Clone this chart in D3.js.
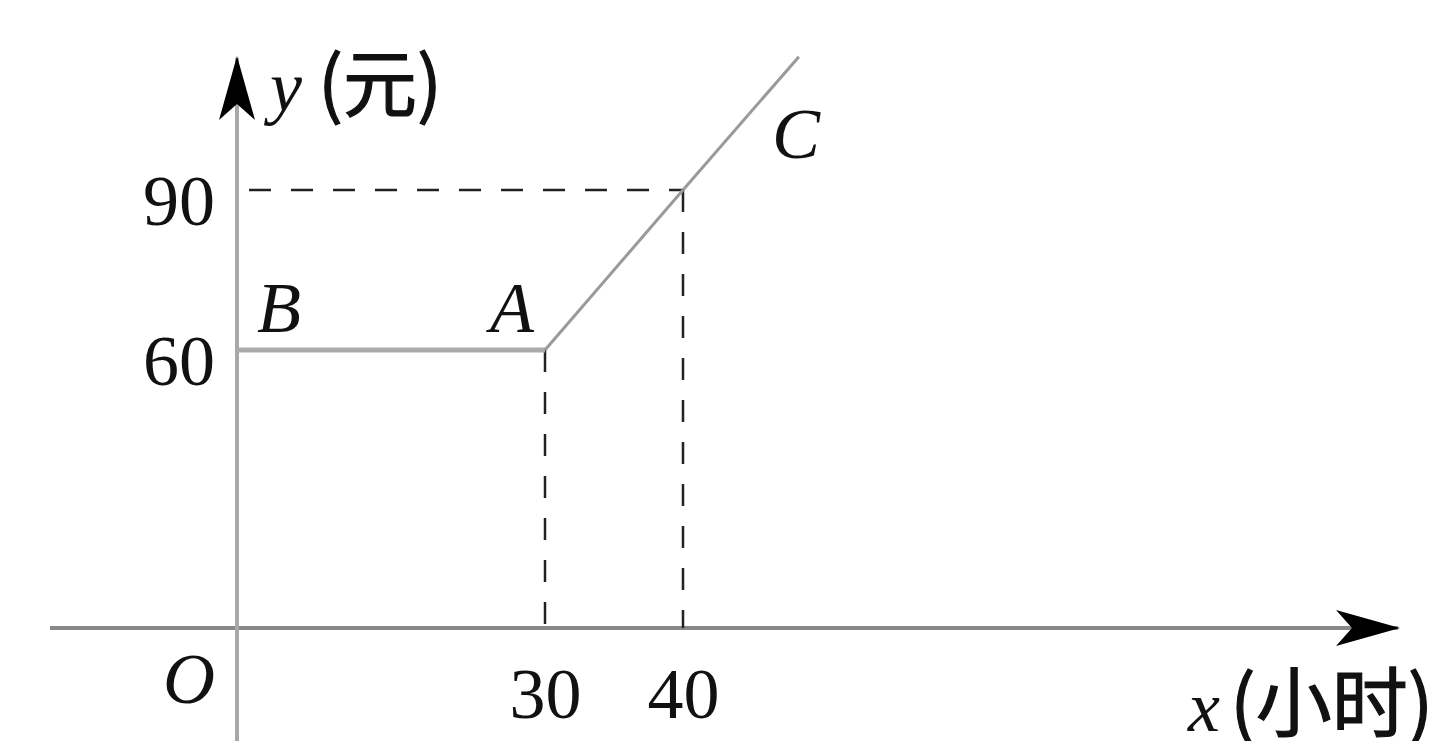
<!DOCTYPE html>
<html>
<head>
<meta charset="utf-8">
<script src="https://cdn.jsdelivr.net/npm/d3@7/dist/d3.min.js"></script>
<style>
  html, body { margin: 0; padding: 0; background: #fff; overflow: hidden; }
  svg { display: block; }
</style>
</head>
<body>
<div id="render-zone"></div>
<script>
/* chart data */
var xTicks = [30, 40],                 // hours marked on x
    yTicks = [60, 90],                 // fees marked on y
    pathX  = [0, 30, 40, 48.4],        // B, A, (40,90), end of C ray
    pathY  = [60, 60, 90, 115],
    guideX = [30, 40],                 // dashed drop lines
    guideY = [60, 90],
    pointNames = [ { name : "B", x : 0,  y : 60 },
                   { name : "A", x : 30, y : 60 },
                   { name : "C", x : 48.4, y : 115 } ];

(function( w ) {

"use strict";

var W = 1443, H = 741,
    SERIF = "'Liberation Serif','Times New Roman',serif",
    CJK   = "'Noto Sans CJK SC',sans-serif",

    /* the textbook figure is not to scale, so both scales are piecewise */
    x = d3.scaleLinear().domain([0, 30, 40]).range([237, 545, 683]),
    y = d3.scaleLinear().domain([0, 60, 90]).range([628, 350, 190]),

    svg = d3.select("#render-zone").append("svg")
        .attr("width", W).attr("height", H),
    defs = svg.append("defs");

/* stealth arrow heads */
defs.append("marker")
    .attr("id", "arrow")
    .attr("viewBox", "0 0 64 36")
    .attr("refX", 62).attr("refY", 18)
    .attr("markerWidth", 64).attr("markerHeight", 36)
    .attr("markerUnits", "userSpaceOnUse")
    .attr("orient", "auto")
  .append("path")
    .attr("d", "M0,0 L64,18 L0,36 L16,18 Z")
    .attr("fill", "#000");

/* axes lines */
svg.append("line")
    .attr("x1", 50).attr("x2", 1398)
    .attr("y1", y(0)).attr("y2", y(0))
    .attr("stroke", "#888").attr("stroke-width", 4)
    .attr("marker-end", "url(#arrow)");

svg.append("line")
    .attr("x1", x(0)).attr("x2", x(0))
    .attr("y1", H).attr("y2", 58)
    .attr("stroke", "#a8a8a8").attr("stroke-width", 4)
    .attr("marker-end", "url(#arrow)");

/* dashed guides */
var guides = svg.append("g")
    .attr("stroke", "#222").attr("stroke-width", 2.5)
    .attr("stroke-dasharray", "22,20").attr("fill", "none");

guides.selectAll("line.v").data(guideX).enter().append("line")
    .attr("class", "v")
    .attr("x1", function(d){ return x(d); }).attr("x2", function(d){ return x(d); })
    .attr("y1", function(d, i){ return y(guideY[i]); }).attr("y2", y(0));

guides.append("line")
    .attr("x1", x(0) + 12).attr("x2", x(guideX[1]))
    .attr("y1", y(guideY[1])).attr("y2", y(guideY[1]));

/* the fee function: flat part thick, rising part thinner */
var segs = d3.range(pathX.length - 1).map(function(i){
    return { x1 : pathX[i], y1 : pathY[i], x2 : pathX[i+1], y2 : pathY[i+1] };
});

svg.append("g").selectAll("line").data(segs).enter().append("line")
    .attr("x1", function(d){ return x(d.x1); })
    .attr("y1", function(d){ return y(d.y1); })
    .attr("x2", function(d){ return x(d.x2); })
    .attr("y2", function(d){ return y(d.y2); })
    .attr("stroke", function(d){ return d.y1 === d.y2 ? "#ababab" : "#9a9a9a"; })
    .attr("stroke-width", function(d){ return d.y1 === d.y2 ? 5 : 3; })
    .attr("stroke-linecap", "butt");

/* tick labels through d3 axes */
var yAxis = svg.append("g")
    .attr("transform", "translate(" + x(0) + ",0)")
    .call(d3.axisLeft(y).tickValues(yTicks).tickSize(0).tickPadding(22));

var xAxis = svg.append("g")
    .attr("transform", "translate(0," + y(0) + ")")
    .call(d3.axisBottom(x).tickValues(xTicks).tickSize(0).tickPadding(39));

[yAxis, xAxis].forEach(function(a){
    a.select(".domain").remove();
    a.selectAll("text")
        .attr("fill", "#111")
        .style("font-family", SERIF)
        .style("font-size", "72px");
});
yAxis.selectAll("text").attr("dy", "0.48em");

/* point names */
var nameOffset = { B : [20, -18], A : [-55, -18], C : [-27, 101] };

svg.append("g").selectAll("text").data(pointNames).enter().append("text")
    .attr("x", function(d){ return x(d.x) + nameOffset[d.name][0]; })
    .attr("y", function(d){ return y(d.y) + nameOffset[d.name][1]; })
    .attr("fill", "#111")
    .style("font-family", SERIF)
    .style("font-style", "italic")
    .style("font-size", "72px")
    .text(function(d){ return d.name; });

/* origin */
svg.append("text")
    .attr("x", 163).attr("y", 703)
    .attr("fill", "#111")
    .style("font-family", SERIF).style("font-style", "italic").style("font-size", "72px")
    .text("O");

/* axis titles */
var yTitle = svg.append("text").attr("x", 270).attr("y", 111).attr("fill", "#111");
yTitle.append("tspan")
    .style("font-family", SERIF).style("font-style", "italic").style("font-size", "72px")
    .text("y");
yTitle.append("tspan")
    .attr("dx", 16)
    .style("font-family", CJK).style("font-size", "74px")
    .attr("stroke", "#111").attr("stroke-width", 1.2)
    .text("(元)");

var xTitle = svg.append("text").attr("x", 1188).attr("y", 731).attr("fill", "#111");
xTitle.append("tspan")
    .style("font-family", SERIF).style("font-style", "italic").style("font-size", "72px")
    .text("x");
xTitle.append("tspan")
    .attr("dx", 10)
    .style("font-family", CJK).style("font-size", "76px")
    .attr("stroke", "#111").attr("stroke-width", 1.2)
    .text("(小时)");

})( window );
</script>
</body>
</html>
